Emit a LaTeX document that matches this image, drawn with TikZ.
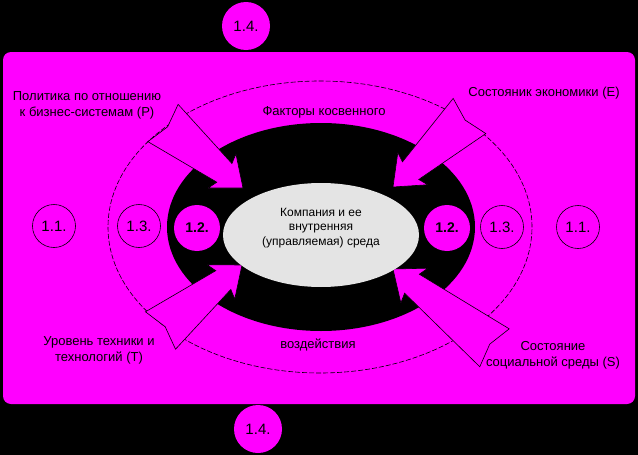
\documentclass[tikz,border=0pt]{standalone}
\usepackage{fontspec}
\setmainfont{Liberation Sans}
\usetikzlibrary{calc,shapes.geometric}
\definecolor{mag}{RGB}{255,0,255}
\definecolor{egray}{RGB}{228,228,228}
\tikzset{
  lbl/.style={font=\fontsize{13}{16}\selectfont, align=center, text=black, inner sep=0pt},
  numcirc/.style={circle, draw=black, line width=0.6pt, minimum size=43pt, inner sep=0pt, font=\fontsize{15}{15}\selectfont},
  boldcirc/.style={circle, fill=mag, minimum size=46pt, inner sep=0pt, font=\bfseries\fontsize{14}{14}\selectfont},
  topcirc/.style={circle, fill=mag, minimum size=48pt, inner sep=0pt, font=\fontsize{15}{15}\selectfont},
  arrowbody/.style={fill=mag, draw=black, line width=0.6pt, line join=miter},
  dashring/.style={draw=black, line width=0.6pt, dash pattern=on 5pt off 2pt},
}
\newcommand{\fatarrow}[2]{%
  \filldraw[arrowbody] ($(#1)!24pt!90:(#2)$)
    -- ($(#2)!24pt!(#1)!12pt!-90:(#1)$)
    -- ($(#2)!27pt!(#1)!22pt!-90:(#1)$)
    -- (#2)
    -- ($(#2)!27pt!(#1)!22pt!90:(#1)$)
    -- ($(#2)!24pt!(#1)!12pt!90:(#1)$)
    -- ($(#1)!24pt!-90:(#2)$)
    -- ($(#1)!6pt!(#2)$) -- cycle;}
\begin{document}
\begin{tikzpicture}[x=1pt,y=-1pt]
\useasboundingbox (0,0) rectangle (638,455);
\fill[black] (0,0) rectangle (638,455);
\fill[mag, rounded corners=8pt] (3,52) rectangle (635,404);
% outer dashed ellipse
\draw[dashring] (320,227) ellipse [x radius=212pt, y radius=146pt];
% black ring
\fill[black] (321,227) ellipse [x radius=154pt, y radius=104pt];
% circles
\node[numcirc] (c11l) at (54,226) {1.1.};
\node[numcirc] (c11r) at (578,227) {1.1.};
\node[numcirc] (c13l) at (139,226) {1.3.};
\node[numcirc] (c13r) at (502,227) {1.3.};
\node[boldcirc] (c12l) at (197,228) {1.2.};
\node[boldcirc] (c12r) at (447,228) {1.2.};
% arrows
\coordinate (tTL) at (163,123); \coordinate (hTL) at (243,188);
\coordinate (tTR) at (469.5,116); \coordinate (hTR) at (393,187);
\coordinate (tBL) at (160.5,330.5); \coordinate (hBL) at (242,265);
\coordinate (tBR) at (494.5,347.8); \coordinate (hBR) at (393,269);
\fatarrow{tTL}{hTL}
\fatarrow{tTR}{hTR}
\fatarrow{tBL}{hBL}
\fatarrow{tBR}{hBR}
% company
\node[ellipse, fill=egray, minimum width=196pt, minimum height=104pt, inner sep=0pt] (company) at (321,235) {};
\node[lbl, font=\fontsize{12}{14.5}\selectfont] (companytext) at (321,228) {Компания и ее\\внутренняя\\(управляемая) среда};
% labels
\node[lbl] (pol) at (87,105) {Политика по отношению\\к бизнес-системам (Р)};
\node[lbl] (eco) at (544,93) {Состояник экономики (Е)};
\node[lbl] (fact) at (324,112) {Факторы косвенного};
\node[lbl] (vozd) at (318,345) {воздействия};
\node[lbl] (tech) at (99,350) {Уровень техники и\\технологий (Т)};
\node[lbl] (soc) at (553,355) {Состояние\\социальной среды (S)};
% 1.4 circles
\node[topcirc] (c14t) at (246,26) {1.4.};
\node[topcirc] (c14b) at (258,429) {1.4.};
\end{tikzpicture}
\end{document}
